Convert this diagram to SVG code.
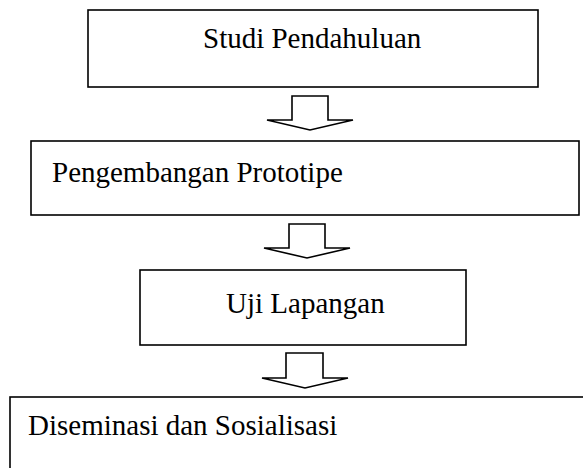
<svg xmlns="http://www.w3.org/2000/svg" width="583" height="468" viewBox="0 0 583 468">
<style>
.box{fill:#fff;stroke:#000;stroke-width:1.6}
.arr{fill:#fff;stroke:#000;stroke-width:1.6;stroke-linejoin:miter}
.t{font-family:"Liberation Serif","Times New Roman",serif;font-size:29px;fill:#000}
</style>
<rect width="583" height="468" fill="#fff"/>
<g id="connectors">
<polygon class="arr" points="292,96 328,96 328,120 353,120 310,130 267,120 292,120"/>
<polygon class="arr" points="289,224 325,224 325,248 350,248 307,258 264,248 289,248"/>
<polygon class="arr" points="286,353 323,353 323,378 348,378 305,388 262,378 286,378"/>
</g>
<g id="node1">
<rect class="box" x="88" y="10" width="450" height="77"/>
<text class="t" x="203" y="48">Studi Pendahuluan</text>
</g>
<g id="node2">
<rect class="box" x="31" y="141" width="548" height="74"/>
<text class="t" x="52" y="182">Pengembangan Prototipe</text>
</g>
<g id="node3">
<rect class="box" x="140" y="270" width="326" height="75"/>
<text class="t" x="226" y="313">Uji Lapangan</text>
</g>
<g id="node4">
<rect class="box" x="10" y="397" width="600" height="100"/>
<text class="t" x="28" y="435">Diseminasi dan Sosialisasi</text>
</g>
</svg>
